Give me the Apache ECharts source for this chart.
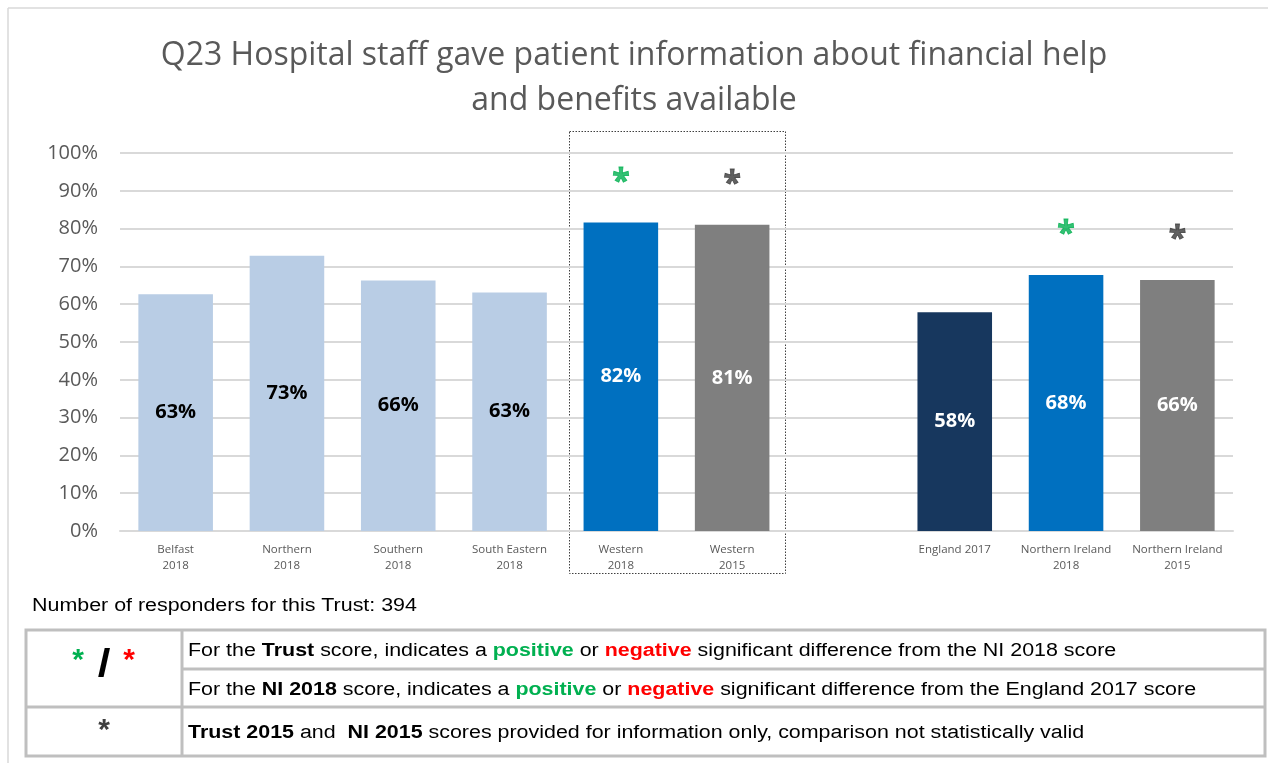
<!DOCTYPE html>
<html>
<head>
<meta charset="utf-8">
<script src="https://cdn.jsdelivr.net/npm/echarts@6/dist/echarts.min.js"></script>
<style>
html,body{margin:0;padding:0;background:#fff;}
#chart{width:1268px;height:763px;}
</style>
</head>
<body>
<div id="chart"></div>
<script>
const categories = ['Belfast\n2018','Northern\n2018','Southern\n2018','South Eastern\n2018','Western\n2018','Western\n2015','','England 2017','Northern Ireland\n2018','Northern Ireland\n2015'];
const values = [62.6, 72.8, 66.3, 63.1, 81.6, 81.0, null, 57.9, 67.7, 66.4];
const valueLabels = ['63%','73%','66%','63%','82%','81%','','58%','68%','66%'];
const barColors = ['#B9CDE5','#B9CDE5','#B9CDE5','#B9CDE5','#0070C0','#7F7F7F','#ffffff','#17375E','#0070C0','#7F7F7F'];
const labelColors = ['#000000','#000000','#000000','#000000','#ffffff','#ffffff','#ffffff','#ffffff','#ffffff','#ffffff'];
const sigMarks = ['','','','','*','*','','','*','*'];
const sigColors = ['','','','','#00B050','#3A3A3A','','','#00B050','#3A3A3A'];

const chart = echarts.init(document.getElementById('chart'));
const FONT = 'Open Sans';
const TFONT = 'Liberation Sans';
const SX = 1.19;

const barData = values.map((v,i)=>({
  value: v,
  itemStyle:{color: barColors[i]},
  label:{color: labelColors[i], formatter: valueLabels[i]}
}));
const sigData = values.map((v,i)=> sigMarks[i] ? {
  value: v,
  label:{show:true, formatter: sigMarks[i], color: sigColors[i], textBorderColor: sigColors[i], textBorderWidth:0.8}
} : {value: null});

function rowText(text, x, y, rich){
  return {type:'text', x:x, y:y, scaleX:SX, style:{
    text:text, verticalAlign:'middle', fontFamily:TFONT, fontSize:18, fill:'#000',
    rich: rich || {}
  }};
}
const RICH = {
  b:{fontFamily:TFONT, fontSize:18, fontWeight:'bold', fill:'#000'},
  g:{fontFamily:TFONT, fontSize:18, fontWeight:'bold', fill:'#00B050'},
  r:{fontFamily:TFONT, fontSize:18, fontWeight:'bold', fill:'#FF0000'}
};

chart.setOption({
  animation:false,
  title:{
    text:'Q23 Hospital staff gave patient information about financial help\nand benefits available',
    left:'center', top:28,
    textStyle:{fontFamily:FONT, fontSize:32, fontWeight:'normal', color:'#595959', lineHeight:45}
  },
  grid:{left:120, right:35, top:153, bottom:232},
  xAxis:{
    type:'category', data:categories,
    axisLine:{lineStyle:{color:'#D9D9D9', width:2}},
    axisTick:{show:false},
    axisLabel:{interval:0, fontFamily:FONT, fontSize:11.5, color:'#595959', lineHeight:16, margin:11}
  },
  yAxis:{
    type:'value', min:0, max:100, interval:10,
    axisLine:{show:false}, axisTick:{show:false},
    splitLine:{lineStyle:{color:'#D9D9D9', width:2}},
    axisLabel:{formatter: v=> v+'%', fontFamily:FONT, fontSize:20, color:'#595959', margin:22}
  },
  series:[
    {type:'bar', data:barData, barWidth:'67%',
     label:{show:true, position:'inside', fontFamily:FONT, fontSize:20, fontWeight:'bold'}},
    {type:'scatter', data:sigData, symbolSize:0,
     label:{show:false, position:'inside', offset:[0,-40], fontFamily:FONT, fontSize:32, fontWeight:'bold'}}
  ],
  graphic:[
    {type:'line', shape:{x1:8,y1:8,x2:1268,y2:8}, style:{stroke:'#D9D9D9', lineWidth:1.5}},
    {type:'line', shape:{x1:8,y1:8,x2:8,y2:763}, style:{stroke:'#D9D9D9', lineWidth:1.5}},
    {type:'rect', shape:{x:569.5,y:131.5,width:216,height:442}, style:{fill:'none', stroke:'#404040', lineWidth:1, lineDash:[1.5,1.5]}},
    {type:'text', x:32, y:606, scaleX:SX, style:{text:'Number of responders for this Trust: 394', verticalAlign:'middle', fontFamily:TFONT, fontSize:18, fill:'#000'}},
    {type:'rect', shape:{x:26,y:630,width:1239,height:126}, style:{fill:'#fff', stroke:'#BFBFBF', lineWidth:3}},
    {type:'line', shape:{x1:182,y1:630,x2:182,y2:756}, style:{stroke:'#BFBFBF', lineWidth:3}},
    {type:'line', shape:{x1:182,y1:669,x2:1265,y2:669}, style:{stroke:'#BFBFBF', lineWidth:3}},
    {type:'line', shape:{x1:26,y1:707,x2:1265,y2:707}, style:{stroke:'#BFBFBF', lineWidth:3}},
    {type:'text', x:78, y:661, style:{text:'*', align:'center', verticalAlign:'middle', fontFamily:TFONT, fontSize:30, fontWeight:'bold', fill:'#00B050'}},
    {type:'text', x:104, y:666, scaleX:1.2, style:{text:'/', align:'center', verticalAlign:'middle', fontFamily:TFONT, fontSize:38, fontWeight:'bold', fill:'#000'}},
    {type:'text', x:129, y:661, style:{text:'*', align:'center', verticalAlign:'middle', fontFamily:TFONT, fontSize:30, fontWeight:'bold', fill:'#FF0000'}},
    {type:'text', x:104, y:731, style:{text:'*', align:'center', verticalAlign:'middle', fontFamily:TFONT, fontSize:30, fontWeight:'bold', fill:'#404040'}},
    rowText('For the {b|Trust} score, indicates a {g|positive} or {r|negative} significant difference from the NI 2018 score', 188, 651, RICH),
    rowText('For the {b|NI 2018} score, indicates a {g|positive} or {r|negative} significant difference from the England 2017 score', 188, 690, RICH),
    rowText('{b|Trust 2015} and  {b|NI 2015} scores provided for information only, comparison not statistically valid', 188, 733, RICH)
  ]
});
</script>
</body>
</html>
